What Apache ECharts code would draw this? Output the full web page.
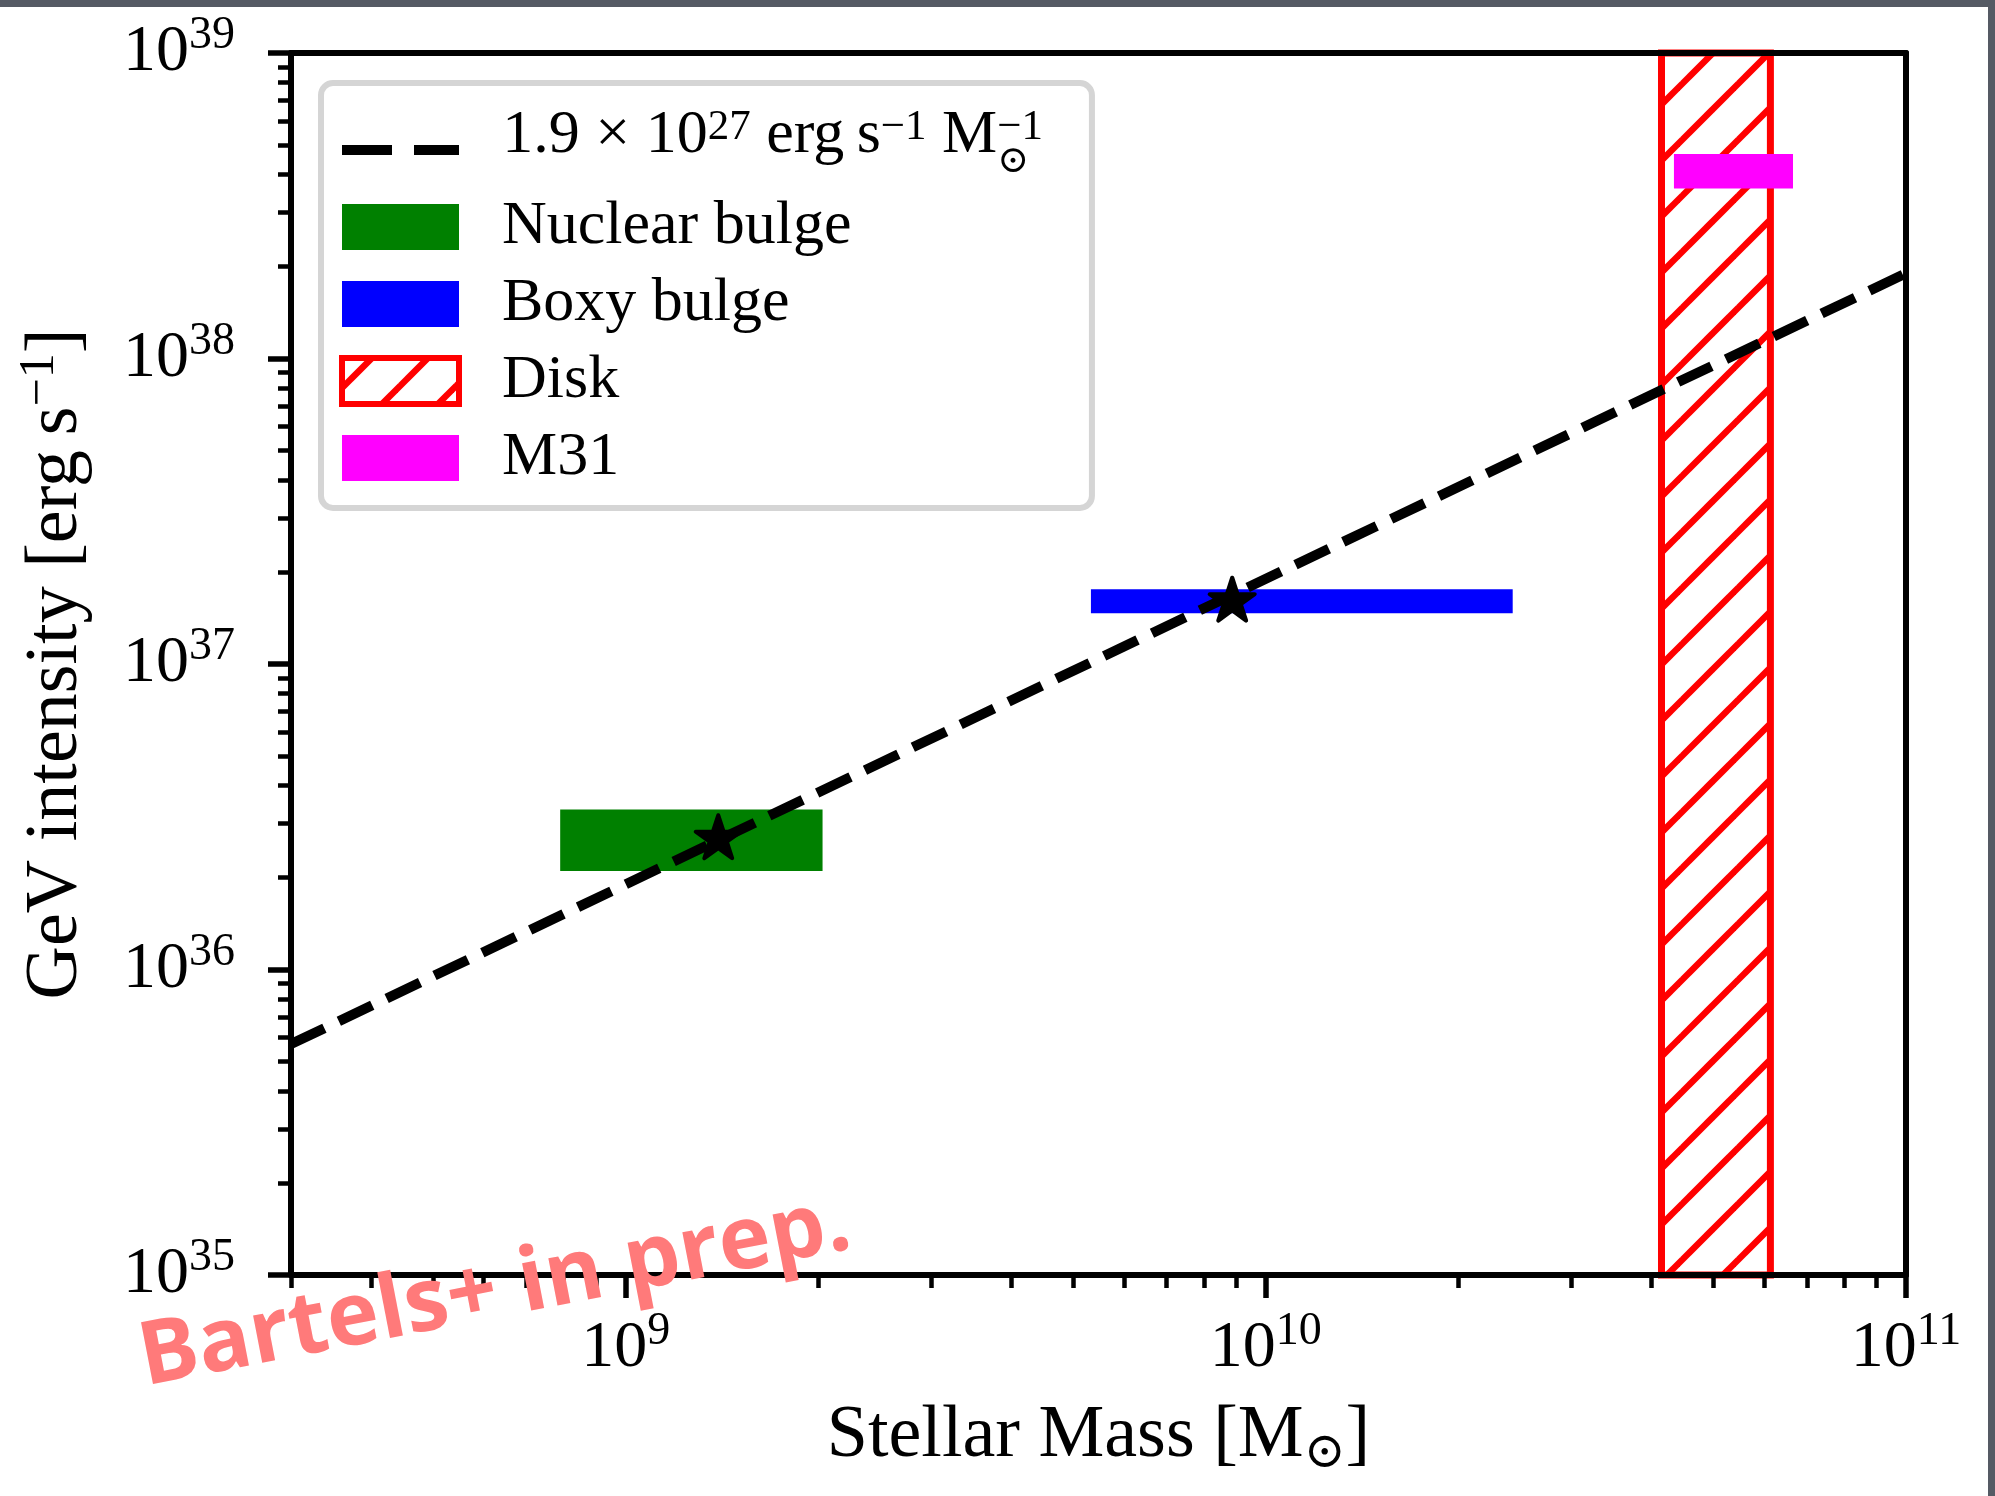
<!DOCTYPE html>
<html>
<head>
<meta charset="utf-8">
<title>GeV intensity vs stellar mass</title>
<script src="https://cdn.jsdelivr.net/npm/echarts@6/dist/echarts.min.js"></script>
<style>
html, body { margin: 0; padding: 0; background: #ffffff; }
#chart { width: 1995px; height: 1496px; }
</style>
</head>
<body>
<div id="chart"></div>
<script>
// axis ranges and tick positions (raw units, log axes)
var xRange = [3e8, 1e11];
var yRange = [1e35, 1e39];
var xMajor = [1e9, 1e10, 1e11];
var yMajor = [1e35, 1e36, 1e37, 1e38, 1e39];
var minorSteps = [2, 3, 4, 5, 6, 7, 8, 9];

// dashed scaling line, 1.9e27 erg/s per solar mass (read at the plot edges)
var lineMass = [3e8, 1e11];
var lineLum = [5.7e35, 1.9e38];

// stars
var starMass = [1.395e9, 8.86e9];
var starLum = [2.72e36, 1.63e37];

// boxes: [mass min, mass max, lum min, lum max]
var nuclearBox = [7.9e8, 2.03e9, 2.10e36, 3.34e36];
var boxyBox = [5.33e9, 2.43e10, 1.466e37, 1.756e37];
var diskBox = [4.15e10, 6.14e10, 1e35, 1e39];
var m31Box = [4.34e10, 6.66e10, 3.60e38, 4.67e38];

var lg = Math.log10;
var serif = '"Liberation Serif", "DejaVu Serif", serif';

function minorTicks(range) {
    var out = [];
    for (var e = Math.floor(lg(range[0])); e < Math.ceil(lg(range[1])); e++) {
        for (var i = 0; i < minorSteps.length; i++) {
            var v = minorSteps[i] * Math.pow(10, e);
            if (v >= range[0] && v <= range[1]) out.push(lg(v));
        }
    }
    return out;
}

function powLabel(v) {
    return '{b|10}{s|' + Math.round(v) + '}';
}

var labelRich = {
    b: { fontFamily: serif, fontSize: 66, lineHeight: 80, color: '#000' },
    s: { fontFamily: serif, fontSize: 46, lineHeight: 46, verticalAlign: 'top', color: '#000' }
};

// hatch pattern for the disk
var hatch = (function () {
    var s = 56, ph = 30;
    var c = document.createElement('canvas');
    c.width = s; c.height = s;
    var g = c.getContext('2d');
    g.strokeStyle = '#ff0000';
    g.lineWidth = 6.5;
    [ph - s, ph, ph + s, ph + 2 * s].forEach(function (k) {
        g.beginPath();
        g.moveTo(k + 20, -20);
        g.lineTo(-20, k + 20);
        g.stroke();
    });
    return { image: c, repeat: 'repeat' };
})();

function boxData(b) {
    return [[lg(b[0]), lg(b[1]), lg(b[2]), lg(b[3])]];
}

function boxRender(style) {
    return function (params, api) {
        var p0 = api.coord([api.value(0), api.value(2)]);
        var p1 = api.coord([api.value(1), api.value(3)]);
        return {
            type: 'rect',
            shape: { x: p0[0], y: p1[1], width: p1[0] - p0[0], height: p0[1] - p1[1] },
            style: style
        };
    };
}

function pairs(xs, ys) {
    var out = [];
    for (var i = 0; i < xs.length; i++) out.push([lg(xs[i]), lg(ys[i])]);
    return out;
}

var starPath = 'path://M50,0 L61.23,34.55 L97.55,34.55 L68.16,55.9 L79.39,90.45 L50,69.1 L20.61,90.45 L31.84,55.9 L2.45,34.55 L38.77,34.55 Z';

var myChart = echarts.init(document.getElementById('chart'));
var option = {
    animation: false,
    backgroundColor: '#ffffff',
    textStyle: { fontFamily: serif },
    grid: { left: 291, right: 89, top: 53, bottom: 221, containLabel: false },
    xAxis: [
        {
            type: 'value', position: 'bottom', min: lg(xRange[0]), max: lg(xRange[1]), z: 10,
            axisLine: { show: true, onZero: false, lineStyle: { color: '#000', width: 6 } },
            axisTick: { show: true, customValues: xMajor.map(lg), length: 23, lineStyle: { color: '#000', width: 5.5 } },
            axisLabel: { customValues: xMajor.map(lg), formatter: powLabel, margin: 34, rich: labelRich },
            splitLine: { show: false },
            name: '{n|Stellar Mass [M}{u|\u2299}{n|]}',
            nameLocation: 'middle', nameGap: 120,
            nameTextStyle: {
                rich: {
                    n: { fontFamily: serif, fontSize: 74, lineHeight: 84, color: '#000' },
                    u: { fontFamily: serif, fontSize: 50, lineHeight: 52, verticalAlign: 'bottom', color: '#000' }
                }
            }
        },
        {
            type: 'value', position: 'bottom', min: lg(xRange[0]), max: lg(xRange[1]), z: 10,
            axisLine: { show: false, onZero: false },
            axisTick: { show: true, customValues: minorTicks(xRange), length: 13, lineStyle: { color: '#000', width: 4.5 } },
            axisLabel: { show: false },
            splitLine: { show: false }
        },
        {
            type: 'value', position: 'top', min: lg(xRange[0]), max: lg(xRange[1]), z: 10,
            axisLine: { show: true, onZero: false, lineStyle: { color: '#000', width: 6 } },
            axisTick: { show: false }, axisLabel: { show: false }, splitLine: { show: false }
        }
    ],
    yAxis: [
        {
            type: 'value', position: 'left', min: lg(yRange[0]), max: lg(yRange[1]), z: 10,
            axisLine: { show: true, onZero: false, lineStyle: { color: '#000', width: 6 } },
            axisTick: { show: true, customValues: yMajor.map(lg), length: 23, lineStyle: { color: '#000', width: 5.5 } },
            axisLabel: { customValues: yMajor.map(lg), formatter: powLabel, margin: 56, rich: labelRich },
            splitLine: { show: false },
            name: '{n|GeV intensity [erg\u2009s}{s|\u22121}{n|]}',
            nameLocation: 'middle', nameGap: 192, nameRotate: 90,
            nameTextStyle: {
                rich: {
                    n: { fontFamily: serif, fontSize: 74, lineHeight: 84, color: '#000' },
                    s: { fontFamily: serif, fontSize: 50, lineHeight: 50, verticalAlign: 'top', color: '#000' }
                }
            }
        },
        {
            type: 'value', position: 'left', min: lg(yRange[0]), max: lg(yRange[1]), z: 10,
            axisLine: { show: false, onZero: false },
            axisTick: { show: true, customValues: minorTicks(yRange), length: 13, lineStyle: { color: '#000', width: 4.5 } },
            axisLabel: { show: false },
            splitLine: { show: false }
        },
        {
            type: 'value', position: 'right', min: lg(yRange[0]), max: lg(yRange[1]), z: 10,
            axisLine: { show: true, onZero: false, lineStyle: { color: '#000', width: 6 } },
            axisTick: { show: false }, axisLabel: { show: false }, splitLine: { show: false }
        }
    ],
    legend: {
        orient: 'vertical',
        left: 321, top: 83,
        padding: [22, 49, 19, 16],
        itemWidth: 117, itemHeight: 46, itemGap: 15,
        backgroundColor: '#ffffff',
        borderColor: '#d5d5d5', borderWidth: 6, borderRadius: 12,
        selectedMode: false,
        z: 20,
        data: [
            {
                name: 'scaling',
                itemStyle: { color: 'rgba(0,0,0,0)', borderWidth: 0, opacity: 0 },
                lineStyle: { color: '#000', width: 10, type: [50, 22], cap: 'butt' }
            },
            { name: 'Nuclear bulge', icon: 'rect', itemStyle: { color: '#008000', borderWidth: 0 } },
            { name: 'Boxy bulge', icon: 'rect', itemStyle: { color: '#0000ff', borderWidth: 0 } },
            { name: 'Disk', icon: 'rect', itemStyle: { color: hatch, borderColor: '#ff0000', borderWidth: 6 } },
            { name: 'M31', icon: 'rect', itemStyle: { color: '#ff00ff', borderWidth: 0 } }
        ],
        formatter: function (name) {
            if (name === 'scaling') {
                return '{h| }{b|1.9 \u00d7 10}{s|27}{b| erg\u2009s}{s|\u22121}{b| M}{d|\u2299}{s|\u22121}';
            }
            return name;
        },
        textStyle: {
            fontFamily: serif, fontSize: 62, lineHeight: 46, color: '#000',
            padding: [0, 0, 0, 38],
            rich: {
                h: { fontSize: 1, lineHeight: 46 },
                b: { fontFamily: serif, fontSize: 62, lineHeight: 18, height: 18, verticalAlign: 'top', color: '#000' },
                s: { fontFamily: serif, fontSize: 43, lineHeight: 2, height: 2, verticalAlign: 'top', color: '#000' },
                d: { fontFamily: serif, fontSize: 38, lineHeight: 22, height: 22, verticalAlign: 'bottom', width: 0, align: 'left', color: '#000' }
            }
        }
    },
    graphic: [
        { type: 'rect', shape: { x: 0, y: 0, width: 1995, height: 7 }, style: { fill: '#555a64' }, z: 30 },
        { type: 'rect', shape: { x: 1988, y: 0, width: 7, height: 1496 }, style: { fill: '#555a64' }, z: 30 },
        {
            type: 'text', x: 495, y: 1292, rotation: 0.192, z: 30,
            style: {
                text: 'Bartels+ in prep.',
                font: '700 88px "Open Sans", "Noto Sans", sans-serif',
                fill: '#ff7a7a', align: 'center', verticalAlign: 'middle'
            }
        }
    ],
    series: [
        {
            name: 'Disk', type: 'custom', z: 1,
            itemStyle: { color: hatch, borderColor: '#ff0000', borderWidth: 6 },
            encode: { x: [0, 1], y: [2, 3] },
            renderItem: boxRender({ fill: hatch, stroke: '#ff0000', lineWidth: 7 }),
            data: boxData(diskBox)
        },
        {
            name: 'Nuclear bulge', type: 'custom', z: 2,
            itemStyle: { color: '#008000' },
            encode: { x: [0, 1], y: [2, 3] },
            renderItem: boxRender({ fill: '#008000' }),
            data: boxData(nuclearBox)
        },
        {
            name: 'Boxy bulge', type: 'custom', z: 2,
            itemStyle: { color: '#0000ff' },
            encode: { x: [0, 1], y: [2, 3] },
            renderItem: boxRender({ fill: '#0000ff' }),
            data: boxData(boxyBox)
        },
        {
            name: 'M31', type: 'custom', z: 3,
            itemStyle: { color: '#ff00ff' },
            encode: { x: [0, 1], y: [2, 3] },
            renderItem: boxRender({ fill: '#ff00ff' }),
            data: boxData(m31Box)
        },
        {
            name: 'scaling', type: 'line', z: 4,
            symbol: 'none',
            lineStyle: { color: '#000', width: 10, type: [37, 16], cap: 'butt' },
            itemStyle: { color: '#000' },
            data: pairs(lineMass, lineLum)
        },
        {
            name: 'stars', type: 'scatter', z: 5,
            symbol: starPath, symbolSize: [45, 43],
            itemStyle: { color: '#000', borderColor: '#000', borderWidth: 4, borderJoin: 'round', opacity: 1 },
            data: pairs(starMass, starLum)
        }
    ]
};
myChart.setOption(option);
</script>
</body>
</html>
